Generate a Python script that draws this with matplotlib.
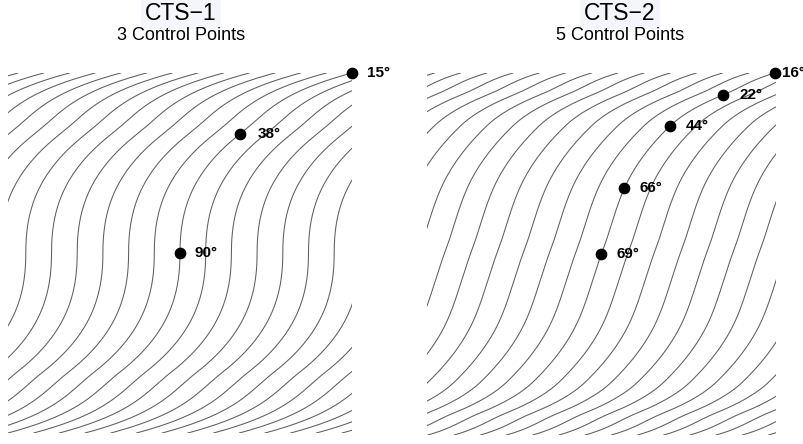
import numpy as np
import matplotlib
matplotlib.use('Agg')
import matplotlib.pyplot as plt

plt.rcParams['font.family'] = ['Liberation Sans', 'DejaVu Sans']

# ---- data ----
titles = ['CTS\u22121', 'CTS\u22122']
subtitles = ['3 Control Points', '5 Control Points']

# control points of the upper half (field units, centre of the field = 0,0)
# the lower half is the same curve turned by 180 degrees
cts1_x = [0.0, 60.0, 172.0]
cts1_y = [0.0, 119.0, 180.0]
cts1_angle = [90, 38, 15]

cts2_x = [0.0, 23.0, 68.5, 121.5, 173.5]
cts2_y = [0.0, 66.0, 128.0, 159.0, 181.0]
cts2_angle = [69, 66, 44, 22, 16]

# half width / half height of each field and the gap between two lines
cts1_field = (172.0, 180.0)
cts2_field = (174.5, 181.0)
cts1_step = 25.7
cts2_step = 26.2


def HermiteCurve(px, py, angles, n=60):
	# x as a function of y, passing the points with slope dx/dy = cot(angle)
	px = np.asarray(px, float); py = np.asarray(py, float)
	ang = np.radians(np.asarray(angles, float))
	# mirror the upper half through the centre
	X = np.concatenate([-px[:0:-1], px])
	Y = np.concatenate([-py[:0:-1], py])
	A = np.concatenate([ang[:0:-1], ang])
	D = np.cos(A) / np.sin(A)
	xs, ys = [], []
	for i in range(len(Y) - 1):
		h = Y[i+1] - Y[i]
		t = np.linspace(0, 1, n)
		h00 = 2*t**3 - 3*t**2 + 1
		h10 = t**3 - 2*t**2 + t
		h01 = -2*t**3 + 3*t**2
		h11 = t**3 - t**2
		xs.append(h00*X[i] + h10*h*D[i] + h01*X[i+1] + h11*h*D[i+1])
		ys.append(Y[i] + t*h)
	return np.concatenate(xs), np.concatenate(ys)


fig = plt.figure(figsize=(8.04, 4.44), dpi=100)

panels = [
	(cts1_x, cts1_y, cts1_angle, cts1_field, cts1_step),
	(cts2_x, cts2_y, cts2_angle, cts2_field, cts2_step),
]
# axes boxes in pixels: left, top, width, height
boxes = [(8, 73, 344, 360), (427, 73, 349, 362)]
title_x = [181, 620]
label_dx = [[15, 18, 15], [15, 15, 16, 17, 7]]  # px from dot to label

for p, (px, py, angles, field, step) in enumerate(panels):
	l, t, w, h = boxes[p]
	ax = fig.add_axes([l/804, 1 - (t + h)/444, w/804, h/444])
	cx, cy = HermiteCurve(px, py, angles)
	for k in range(-30, 31): # plenty of copies, the axes clip them
		ax.plot(cx + k*step, cy, color='#5e5e5e', lw=0.75)
	ax.scatter(px, py, s=55, color='black', zorder=5, clip_on=False)
	for i in range(len(px)):
		ax.annotate('%d\u00b0' % angles[i], (px[i], py[i]), xytext=(label_dx[p][i]*0.72, 0),
			textcoords='offset points', va='center', ha='left',
			fontsize=11, fontweight='bold', annotation_clip=False)
	ax.set_xlim(-field[0], field[0])
	ax.set_ylim(-field[1], field[1])
	ax.axis('off')
	fig.text(title_x[p]/804, 1 - 13/444, titles[p], ha='center', va='center', fontsize=16.5,
		bbox=dict(facecolor='#f4f6fb', edgecolor='none', pad=3))
	fig.text(title_x[p]/804, 1 - 35/444, subtitles[p], ha='center', va='center', fontsize=13)

fig.savefig('out.png', dpi=100, facecolor='white')
